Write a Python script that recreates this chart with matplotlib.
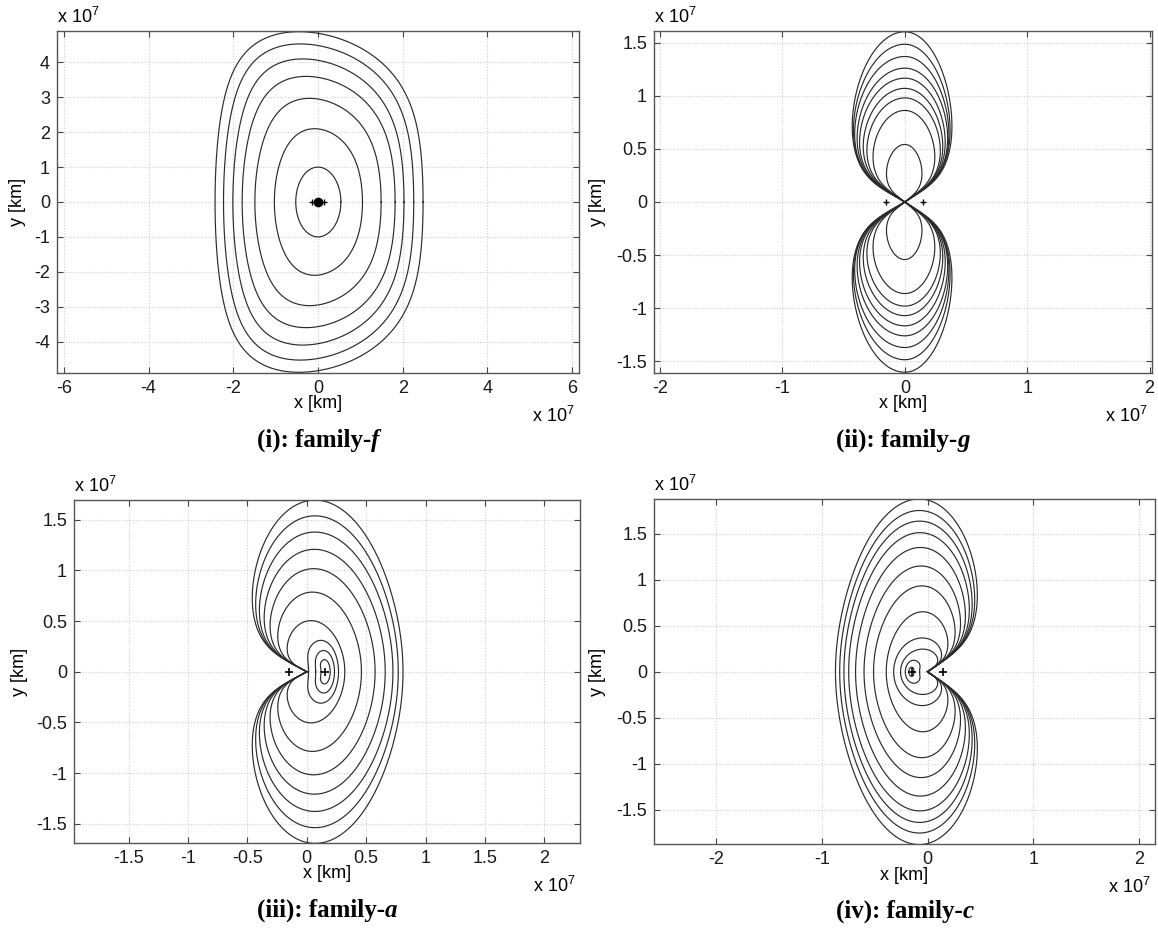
import numpy as np
import matplotlib
matplotlib.use("Agg")
import matplotlib.pyplot as plt
from matplotlib.ticker import FuncFormatter, MultipleLocator

plt.rcParams["font.family"] = ["Liberation Sans", "DejaVu Sans"]
plt.rcParams["axes.unicode_minus"] = False
plt.rcParams["mathtext.fontset"] = "custom"
plt.rcParams["mathtext.rm"] = "Liberation Sans"

# all lengths in units of 1e7 km
# primaries on the x axis
primaries_x = [-0.15, 0.15]

# family f : closed ovals around the origin
f_left = [0.525, 1.03, 1.49, 1.79, 2.01, 2.23, 2.43]
f_right = [0.54, 1.05, 1.49, 1.82, 2.03, 2.26, 2.48]
f_top = [1.0, 2.1, 2.97, 3.6, 4.1, 4.53, 4.88]
f_top_x = [0.0, -0.08, -0.2, -0.28, -0.36, -0.42, -0.45]

# family g : figure-eight orbits, one lobe above and one below the x axis
g_height = [0.542, 0.862, 0.98, 1.07, 1.166, 1.26, 1.37, 1.485, 1.603]
g_wleft = [0.15, 0.26, 0.31, 0.34, 0.37, 0.39, 0.41, 0.42, 0.43]
g_wright = [0.14, 0.245, 0.29, 0.31, 0.33, 0.35, 0.36, 0.37, 0.385]

# family a : orbits through the origin (reach on the +x side) and small beans
a_reach = [0.32, 0.46, 0.575, 0.66, 0.725, 0.77, 0.81]
a_height = [0.5, 0.78, 1.01, 1.2, 1.37, 1.53, 1.685]
a_bean_near = [0.10, 0.05, -0.03]
a_bean_far = [0.197, 0.233, 0.267]
a_bean_height = [0.12, 0.21, 0.31]
a_bean_notch = [0.12, 0.075, 0.015]

# family c : orbits through the origin (reach on the -x side) and small beans
c_reach = [0.255, 0.32, 0.39, 0.51, 0.6, 0.68, 0.745, 0.79, 0.83, 0.87]
c_height = [0.24, 0.36, 0.645, 0.925, 1.14, 1.34, 1.5, 1.625, 1.74, 1.865]
c_bean_near = [-0.123, -0.05]
c_bean_far = [-0.177, -0.21]
c_bean_height = [0.05, 0.125]
c_bean_notch = [-0.13, -0.075]

LINE = dict(color="#2b2b2b", lw=0.85)
FS = 13


def oval(left, right, top, xtop, k):
    # egg-like oval: flattened flanks, rounded top, top point shifted to xtop
    t = np.linspace(0, 2 * np.pi, 600)
    c, s = np.cos(t), np.sin(t)
    f = c * (1 + k * s ** 2)
    x = (right - left) / 2 * c ** 2 + (right + left) / 2 * f + xtop * s ** 4
    return x, top * s


def lobe(h, wl, wr, theta0, q=0.3):
    # polar curve about the origin, angle measured from the y axis
    th = np.linspace(-theta0, theta0, 700)
    a = 0.8 * (wl + wr)
    base = 1 / np.sqrt(np.sin(th) ** 2 / a ** 2 + np.cos(th) ** 2 / h ** 2)
    r = base * np.clip(np.cos(np.pi / 2 * th / theta0), 0, None) ** q
    x = r * np.sin(th)
    y = r * np.cos(th)
    x = np.where(x < 0, x / -x.min() * wl, x / x.max() * wr)
    return x, y


def notched(reach, h, side, theta0, q=0.3):
    th = np.linspace(-theta0, theta0, 900)
    taper = np.clip(np.cos(np.pi / 2 * th / theta0), 0, None) ** q
    b = h / np.cos(np.pi / 2 * (np.pi / 2) / theta0) ** q
    base = 1 / np.sqrt(np.cos(th) ** 2 / reach ** 2 + np.sin(th) ** 2 / b ** 2)
    r = base * taper
    return side * r * np.cos(th), r * np.sin(th)


def bean(near, far, h, notch, w=0.55):
    t = np.linspace(-np.pi, np.pi, 600)
    cx = (near + far) / 2
    a = (far - near) / 2
    dent = (notch - near) * np.exp(-((np.abs(t) - np.pi) / w) ** 2)
    return cx + a * np.cos(t) + dent, h * np.sin(t)


def style(ax, xlim, ylim, xstep, ystep):
    ax.set_xlim(*xlim)
    ax.set_ylim(*ylim)
    ax.xaxis.set_major_locator(MultipleLocator(xstep))
    ax.yaxis.set_major_locator(MultipleLocator(ystep))
    fmt = FuncFormatter(lambda v, pos: f"{v:g}" if abs(v) > 1e-9 else "0")
    ax.xaxis.set_major_formatter(fmt)
    ax.yaxis.set_major_formatter(fmt)
    ax.tick_params(direction="in", length=4, width=0.8, top=True, right=True,
                   color="#444444", labelcolor="#1a1a1a", labelsize=FS, pad=5)
    ax.grid(True, color="#cfcfcf", lw=0.8, ls=(0, (1, 1.5)))
    ax.set_axisbelow(True)
    for s in ax.spines.values():
        s.set_color("#555555")
        s.set_linewidth(1.0)


W, H = 1158, 936
fig = plt.figure(figsize=(W / 100, H / 100), dpi=100)

# panel boxes in pixels: left, top, right, bottom
boxes = [(57, 31, 579, 373), (654, 31, 1152, 373),
         (74, 500, 580, 843), (654, 499, 1155, 844)]
axes = []
for l, t, r, b in boxes:
    axes.append(fig.add_axes([l / W, 1 - b / H, (r - l) / W, (b - t) / H]))
ax1, ax2, ax3, ax4 = axes

# (i) family f
sq = np.array(f_top)
flat = 0.3 * (sq - sq.min()) / (sq.max() - sq.min())
for L, R, T, xt, k in zip(f_left, f_right, f_top, f_top_x, flat):
    ax1.plot(*oval(L, R, T, xt, k), **LINE)
ax1.plot(primaries_x, [0, 0], "+", color="k", ms=5, mew=1.0)
ax1.plot([0], [0], "o", color="k", ms=6)
style(ax1, (-6.16, 6.16), (-4.9, 4.9), 2, 1)

# (ii) family g
gh = np.array(g_height)
arm = np.radians(50 + 10 * (gh - gh.min()) / (gh.max() - gh.min()))
for h, wl, wr, th0 in zip(g_height, g_wleft, g_wright, arm):
    x, y = lobe(h, wl, wr, th0)
    ax2.plot(x, y, **LINE)
    ax2.plot(x, -y, **LINE)
ax2.plot(primaries_x, [0, 0], "+", color="k", ms=5, mew=1.0)
style(ax2, (-2.05, 2.02), (-1.61, 1.61), 1, 0.5)

# (iii) family a
for R, h in zip(a_reach, a_height):
    ax3.plot(*notched(R, h, 1, np.radians(148)), **LINE)
for n, f, h, d in zip(a_bean_near, a_bean_far, a_bean_height, a_bean_notch):
    ax3.plot(*bean(n, f, h, d), **LINE)
ax3.plot(primaries_x, [0, 0], "+", color="k", ms=6, mew=1.2)
style(ax3, (-1.96, 2.30), (-1.69, 1.695), 0.5, 0.5)

# (iv) family c
for R, h in zip(c_reach, c_height):
    ax4.plot(*notched(R, h, -1, np.radians(142)), **LINE)
for n, f, h, d in zip(c_bean_near, c_bean_far, c_bean_height, c_bean_notch):
    ax4.plot(*bean(n, f, h, d), **LINE)
ax4.plot(primaries_x, [0, 0], "+", color="k", ms=6, mew=1.2)
style(ax4, (-2.585, 2.15), (-1.87, 1.876), 1, 0.5)

# axis labels and exponent notes
ylab_x = [18, 598, 20, 598]
for ax, (l, t, r, b), yx in zip(axes, boxes, ylab_x):
    cx = (l + r) / 2
    fig.text(cx / W, 1 - (b + 31) / H, "x [km]", ha="center", va="center", fontsize=FS)
    fig.text(yx / W, 1 - (t + b) / 2 / H, "y [km]", ha="center", va="center",
             rotation=90, fontsize=FS)
    fig.text(l / W, 1 - (t - 14) / H, r"x 10$^7$", ha="left", va="center", fontsize=FS)
    fig.text((r - 4) / W, 1 - (b + 43) / H, r"x 10$^7$", ha="right", va="center", fontsize=FS)

# panel captions, last letter in italics
captions = [("(i): family-", "f"), ("(ii): family-", "g"),
            ("(iii): family-", "a"), ("(iv): family-", "c")]
renderer = fig.canvas.get_renderer()
for (l, t, r, b), (head, tail) in zip(boxes, captions):
    cx = (l + r) / 2
    y = 1 - (b + 65) / H
    t1 = fig.text(0, y, head, ha="left", va="center_baseline", fontsize=18,
                  family="Liberation Serif", weight="bold")
    t2 = fig.text(0, y, tail, ha="left", va="center_baseline", fontsize=18,
                  family="Liberation Serif", weight="bold", style="italic")
    w1 = t1.get_window_extent(renderer).width
    w2 = t2.get_window_extent(renderer).width
    x0 = cx - (w1 + w2) / 2
    t1.set_x(x0 / W)
    t2.set_x((x0 + w1) / W)

fig.savefig("out.png", dpi=100)
